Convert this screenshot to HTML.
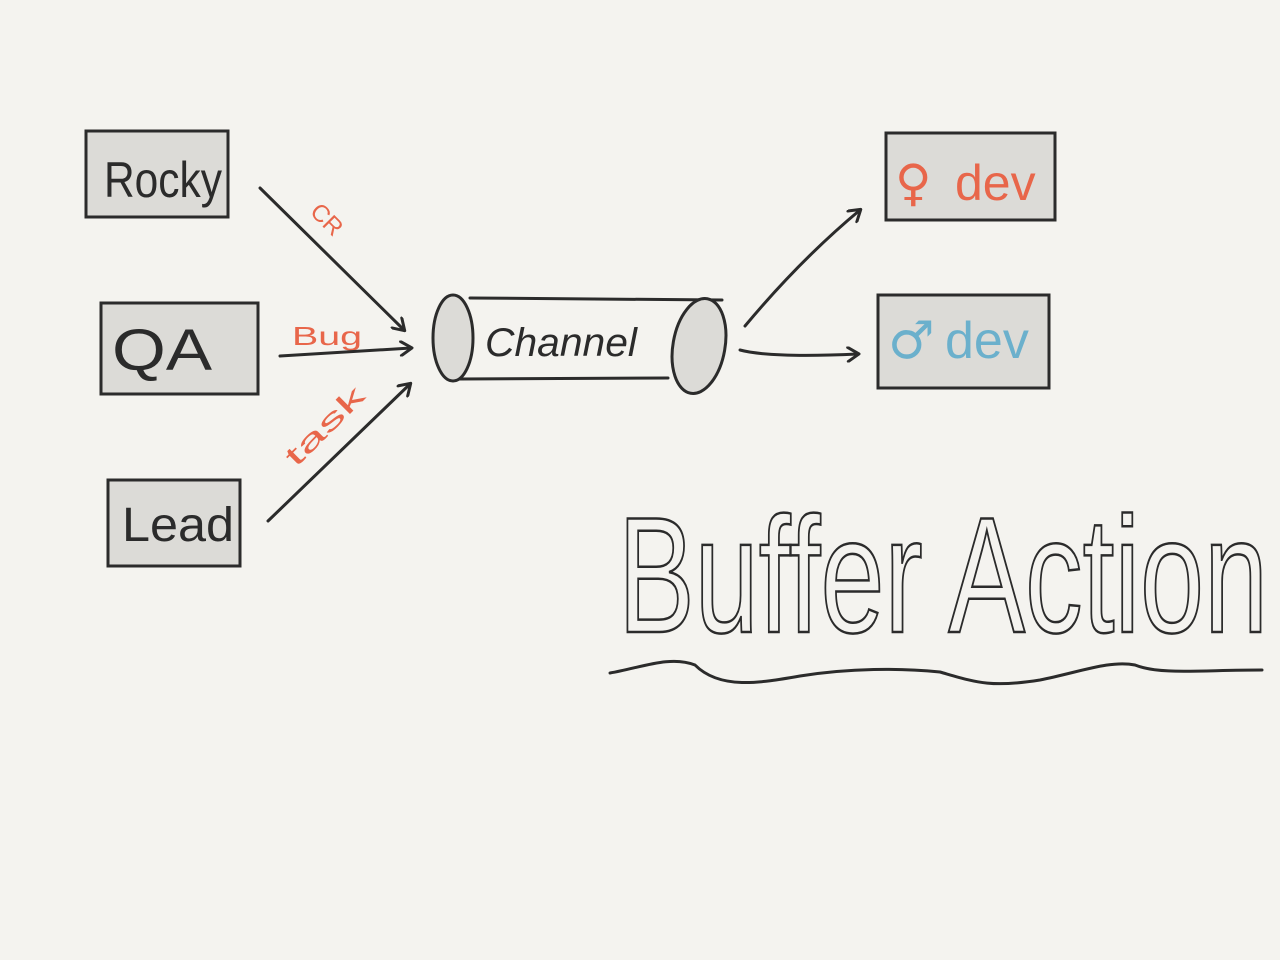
<!DOCTYPE html>
<html><head><meta charset="utf-8"><style>
html,body{margin:0;padding:0;background:#f4f3ef;}
svg{display:block}
</style></head><body>
<svg width="1280" height="960" viewBox="0 0 1280 960" xmlns="http://www.w3.org/2000/svg">
<rect width="1280" height="960" fill="#f4f3ef"/>
<defs>
<marker id="ah" markerWidth="16" markerHeight="16" refX="12" refY="8" orient="auto" markerUnits="userSpaceOnUse">
<path d="M2,1 L13,8 L2,15" fill="none" stroke="#2b2b2b" stroke-width="3" stroke-linecap="round" stroke-linejoin="round"/>
</marker>
</defs>
<g stroke="#2b2b2b" stroke-width="3" fill="#dcdbd7">
<rect x="86" y="131" width="142" height="86"/>
<rect x="101" y="303" width="157" height="91"/>
<rect x="108" y="480" width="132" height="86"/>
<rect x="886" y="133" width="169" height="87"/>
<rect x="878" y="295" width="171" height="93"/>
</g>
<g font-family="Liberation Sans, DejaVu Sans, sans-serif" fill="#2b2b2b">
<text x="104" y="197" font-size="50" textLength="118" lengthAdjust="spacingAndGlyphs">Rocky</text>
<text x="112" y="370" font-size="58" textLength="100" lengthAdjust="spacingAndGlyphs">QA</text>
<text x="122" y="541" font-size="48" textLength="112" lengthAdjust="spacingAndGlyphs">Lead</text>
<text x="895" y="200" font-size="50" fill="#e8664a"><tspan font-family="DejaVu Sans">♀</tspan><tspan x="955">dev</tspan></text>
<text x="888" y="358" font-size="52" fill="#6bb0cc"><tspan font-family="DejaVu Sans">♂</tspan><tspan x="945">dev</tspan></text>
<text x="485" y="356" font-size="40" font-style="italic" textLength="152" lengthAdjust="spacingAndGlyphs">Channel</text>
<text x="292" y="345" font-size="26" fill="#e8664a" textLength="70" lengthAdjust="spacingAndGlyphs">Bug</text>
<text x="306" y="220" font-size="24" fill="#e8664a" transform="rotate(45 316 220)">CR</text>
<text x="296" y="468" font-size="28" fill="#e8664a" transform="rotate(-45 296 468)" textLength="100" lengthAdjust="spacingAndGlyphs">task</text>
<text x="618" y="632" font-size="165" textLength="650" lengthAdjust="spacingAndGlyphs" fill="none" stroke="#2b2b2b" stroke-width="2.5">Buffer Action</text>
</g>
<g stroke="#2b2b2b" stroke-width="3" fill="none" stroke-linecap="round">
<line x1="260" y1="188" x2="404" y2="330" marker-end="url(#ah)"/>
<line x1="280" y1="356" x2="411" y2="348" marker-end="url(#ah)"/>
<line x1="268" y1="521" x2="410" y2="384" marker-end="url(#ah)"/>
<path d="M745,326 Q800,260 860,210" marker-end="url(#ah)"/>
<path d="M740,350 Q770,358 858,354" marker-end="url(#ah)"/>
<line x1="470" y1="298" x2="722" y2="300"/>
<line x1="460" y1="379" x2="668" y2="378"/>
<ellipse cx="453" cy="338" rx="20" ry="43" fill="#dcdbd7"/>
<ellipse cx="699" cy="346" rx="26" ry="48" transform="rotate(10 699 346)" fill="#dcdbd7"/>
<path d="M610,673 C640,668 670,655 695,665 C720,690 760,683 800,676 C850,668 900,668 940,672 C975,682 990,688 1040,680 C1080,672 1110,660 1135,665 C1160,675 1200,670 1262,670"/>
</g>
</svg>
</body></html>
